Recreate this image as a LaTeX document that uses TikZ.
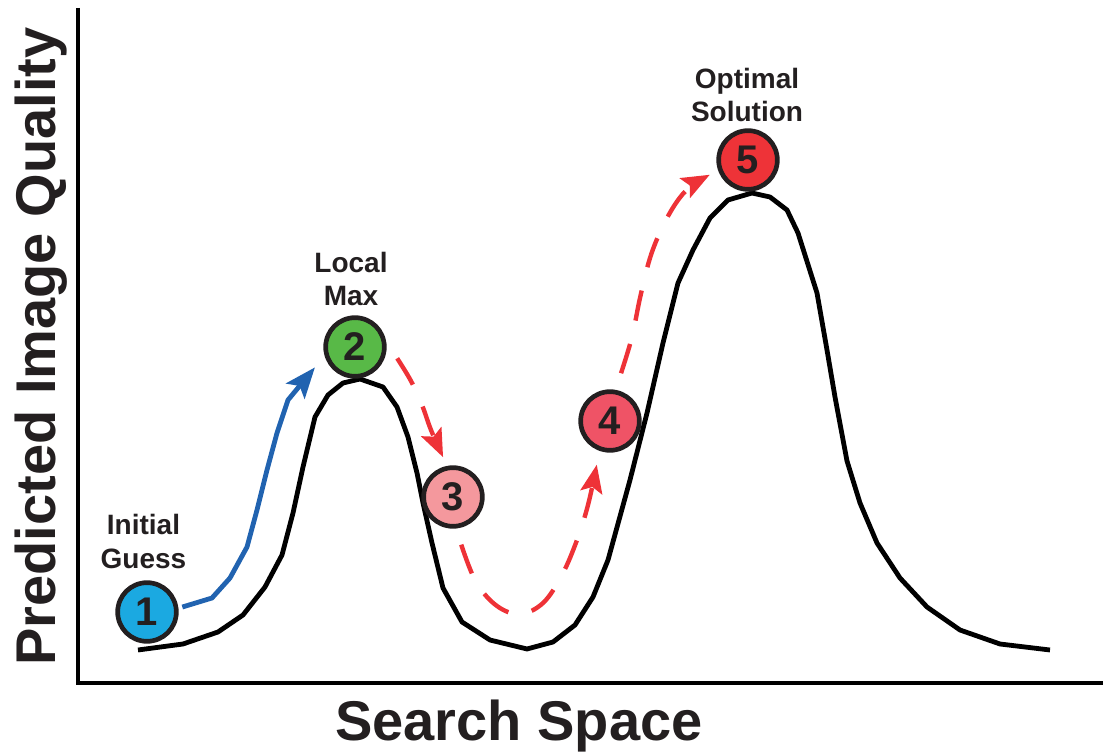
\documentclass[tikz,border=0pt]{standalone}
\usepackage{fontspec}
\setmainfont{Liberation Sans}
\usetikzlibrary{arrows.meta,backgrounds}

\definecolor{ink}{HTML}{231F20}
\definecolor{startcyan}{HTML}{1BA9E1}
\definecolor{localgreen}{HTML}{58B947}
\definecolor{palered}{HTML}{F4989D}
\definecolor{midred}{HTML}{EF5366}
\definecolor{bestred}{HTML}{EE3338}
\definecolor{climbblue}{HTML}{2163B0}
\definecolor{jumpred}{HTML}{EE3237}

\begin{document}
\begin{tikzpicture}[x=0.75pt,y=-0.75pt,
  stepnum/.style={circle,draw=ink,line width=3.5pt,minimum size=44pt,inner sep=0pt,
    font=\fontsize{30}{30}\selectfont\bfseries,text=ink},
  pointlabel/.style={font=\fontsize{21}{25}\selectfont\bfseries,text=ink,align=center,inner sep=0pt},
  axislabel/.style={font=\fontsize{42}{42}\selectfont\bfseries,text=ink,inner sep=0pt},
  climb/.style={draw=climbblue,line width=3.6pt,line join=miter,
    -{Stealth[length=23pt,width=18pt,inset=5pt]}},
  jump/.style={draw=jumpred,line width=3.3pt,dash pattern=on 23pt off 18pt,
    -{Stealth[length=21pt,width=16.5pt,inset=4pt]}},
  landscape/.style={draw=black,line width=3.6pt,line join=round},
  axisline/.style={draw=black,line width=3pt,line join=miter}]

\useasboundingbox (0,0) rectangle (1104,755);

% axes
\draw[axisline] (78,8) -- (78,683) -- (1103,683);

% axis titles
\node[axislabel,rotate=90] (ylab) at (41.5,346.5) {Predicted Image Quality};
\node[axislabel] (xlab) at (519,726) {Search Space};

% numbered search points
\node[stepnum,fill=startcyan]  (n1) at (147,612) {1};
\node[stepnum,fill=localgreen] (n2) at (355,347) {2};
\node[stepnum,fill=palered]    (n3) at (453,497) {3};
\node[stepnum,fill=midred]     (n4) at (610,421) {4};
\node[stepnum,fill=bestred]    (n5) at (748,160) {5};

% point labels
\node[pointlabel] (l1) at (143.5,541.5) {Initial\\Guess};
\node[pointlabel] (l2) at (351,279) {Local\\Max};
\node[pointlabel] (l5) at (747,95) {Optimal\\Solution};

% quality landscape behind the points
\begin{scope}[on background layer]
\draw[landscape] (138,650) -- (183,644) -- (218,632) -- (243,615) -- (265,587)
  -- (282,555) -- (293,513) -- (303,467) -- (315,417) -- (328,395) -- (343,383)
  -- (360,379) -- (383,387) -- (397,407) -- (408,437) -- (417,473) -- (423,503)
  -- (432,543) -- (443,588) -- (462,622) -- (490,640) -- (527,649) -- (553,642)
  -- (575,625) -- (593,597) -- (608,560) -- (630,480) -- (647,413) -- (663,343)
  -- (678,283) -- (693,250) -- (710,218) -- (728,200) -- (752,193) -- (770,197)
  -- (787,210) -- (798,233) -- (817,293) -- (827,350) -- (835,397) -- (847,461)
  -- (860,503) -- (877,543) -- (900,578) -- (927,607) -- (960,630) -- (1000,644)
  -- (1050,650);
\end{scope}

% hill climb from the initial guess to the local maximum
\draw[climb] ([shift={(8:3pt)}]n1.8) -- (212,598) -- (230,578) -- (247,547)
  -- (257,510) -- (267,470) -- (277,433) -- (288,400)
  -- ([shift={(207:10pt)}]n2.207);

% jumps out of the local maximum towards the optimum
\draw[jump] plot[smooth,tension=0.6] coordinates {([shift={(-15:9pt)}]n2.-15)
  (411,381) (422,405) (431,430) ([shift={(104:7pt)}]n3.104)};
\draw[jump] plot[smooth,tension=0.6] coordinates {([shift={(-80.5:12.5pt)}]n3.-80.5)
  (476,582) (497,606) (520,614) (543,603) (562,575) (577,540) (588,505)
  ([shift={(253.5:10.5pt)}]n4.253.5)};
\draw[jump] plot[smooth,tension=0.6] coordinates {([shift={(77:13pt)}]n4.77)
  (632,337) (640,298) (650,258) (662,228) (676,203) (690,187)
  ([shift={(201.5:7pt)}]n5.201.5)};
\end{tikzpicture}
\end{document}
